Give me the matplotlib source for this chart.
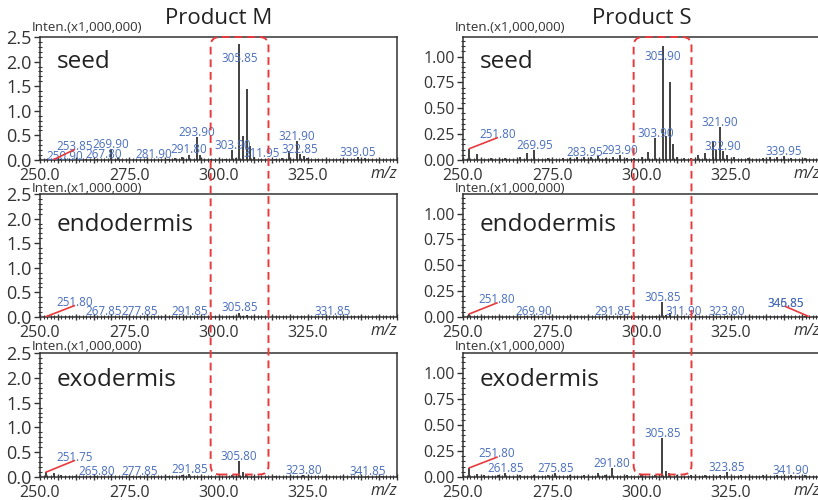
import matplotlib
matplotlib.use("Agg")
import matplotlib.pyplot as plt
from matplotlib.patches import FancyBboxPatch
from matplotlib.ticker import MultipleLocator, FixedLocator, FuncFormatter

plt.rcParams["font.family"] = ["Open Sans", "DejaVu Sans"]

products = ["Product M", "Product S"]
tissues = ["seed", "endodermis", "exodermis"]

# intensity axes, x1,000,000
y_top = [2.5, 1.19]
y_ticks = [[0.0, 0.5, 1.0, 1.5, 2.0, 2.5], [0.0, 0.25, 0.50, 0.75, 1.00]]
y_minor = [0.1, 0.05]
y_fmt = ["{:.1f}", "{:.2f}"]
x_range = (250.0, 350.0)
x_ticks = [250.0, 275.0, 300.0, 325.0]
box_mz = (297.8, 314.0)  # highlighted m/z window

# ---- Product M ----
m_seed_mz = [250.90, 251.85, 253.85, 255.90, 262.90, 265.85, 267.80, 269.90, 271.90,
             279.90, 281.90, 285.90, 287.85, 289.85, 291.80, 293.90, 294.95, 297.85,
             301.90, 303.90, 304.90, 305.85, 306.85, 307.85, 308.85, 309.85, 311.95,
             315.90, 317.90, 319.85, 321.90, 322.85, 323.85, 324.90, 327.90, 333.90,
             337.90, 339.05, 341.00]
m_seed_int = [0.01, 0.03, 0.01, 0.02, 0.02, 0.03, 0.01, 0.23, 0.04,
              0.02, 0.01, 0.03, 0.04, 0.06, 0.11, 0.47, 0.11, 0.02,
              0.03, 0.21, 0.05, 2.35, 0.48, 1.45, 0.29, 0.06, 0.03,
              0.03, 0.04, 0.19, 0.39, 0.12, 0.08, 0.05, 0.02, 0.02,
              0.03, 0.06, 0.04]
m_seed_labels = ["250.90", "253.85", "267.80", "269.90", "281.90", "291.80", "293.90",
                 "303.90", "305.85", "311.95", "321.90", "322.85", "339.05"]

m_endo_mz = [251.80, 253.80, 261.90, 267.85, 277.85, 289.90, 291.85, 303.90, 305.85,
             306.85, 307.85, 321.90, 331.85]
m_endo_int = [0.01, 0.01, 0.01, 0.01, 0.01, 0.01, 0.01, 0.02, 0.09,
              0.03, 0.04, 0.01, 0.01]
m_endo_labels = ["251.80", "267.85", "277.85", "291.85", "305.85", "331.85"]

m_exo_mz = [251.75, 253.80, 255.90, 259.90, 263.90, 265.80, 269.90, 275.90, 277.85,
            281.90, 285.90, 289.90, 291.85, 297.90, 303.90, 305.80, 306.85, 307.80,
            309.90, 315.90, 321.90, 323.80, 329.90, 337.90, 341.85, 345.90]
m_exo_int = [0.10, 0.08, 0.04, 0.03, 0.03, 0.02, 0.03, 0.03, 0.02,
             0.03, 0.03, 0.04, 0.06, 0.03, 0.04, 0.32, 0.10, 0.05,
             0.03, 0.02, 0.03, 0.045, 0.02, 0.02, 0.02, 0.02]
m_exo_labels = ["251.75", "265.80", "277.85", "291.85", "305.80", "323.80", "341.85"]

# ---- Product S ----
s_seed_mz = [251.80, 253.85, 257.90, 261.90, 265.90, 267.85, 269.95, 273.90, 277.90,
             279.90, 281.95, 283.95, 285.90, 287.90, 289.95, 291.90, 293.90, 295.90,
             297.90, 300.05, 301.90, 303.90, 305.90, 306.90, 307.90, 308.90, 309.90,
             311.90, 313.90, 315.90, 317.90, 319.90, 320.90, 321.90, 322.90, 323.90,
             325.90, 329.90, 333.90, 335.90, 337.90, 339.95, 341.90, 345.90]
s_seed_int = [0.11, 0.055, 0.02, 0.02, 0.03, 0.07, 0.10, 0.02, 0.02,
              0.02, 0.03, 0.03, 0.03, 0.04, 0.02, 0.03, 0.05, 0.02,
              0.02, 0.03, 0.08, 0.21, 1.107, 0.23, 0.75, 0.15, 0.03,
              0.02, 0.02, 0.05, 0.07, 0.18, 0.10, 0.32, 0.09, 0.05,
              0.03, 0.02, 0.02, 0.03, 0.03, 0.04, 0.02, 0.02]
s_seed_labels = ["251.80", "269.95", "283.95", "293.90", "303.90", "305.90", "321.90",
                 "322.90", "339.95"]

s_endo_mz = [251.80, 253.85, 267.90, 269.90, 281.90, 289.90, 291.85, 293.90, 303.90,
             305.85, 306.85, 307.85, 311.90, 321.90, 323.80, 335.90, 339.90, 345.85,
             346.85]
s_endo_int = [0.03, 0.01, 0.01, 0.01, 0.01, 0.01, 0.01, 0.01, 0.01,
              0.144, 0.02, 0.04, 0.01, 0.01, 0.01, 0.005, 0.005, 0.005,
              0.005]
s_endo_labels = ["251.80", "269.90", "291.85", "305.85", "311.90", "323.80", "345.85",
                 "346.85"]

s_exo_mz = [251.80, 253.80, 255.90, 259.90, 261.85, 265.90, 269.90, 273.90, 275.85,
            279.90, 283.90, 287.85, 289.90, 291.80, 295.90, 299.90, 303.90, 305.85,
            306.85, 307.80, 309.90, 313.90, 317.90, 321.90, 323.85, 327.90, 333.90,
            337.90, 341.90, 345.90]
s_exo_int = [0.088, 0.03, 0.02, 0.02, 0.035, 0.02, 0.02, 0.02, 0.035,
             0.02, 0.02, 0.04, 0.02, 0.09, 0.02, 0.02, 0.02, 0.37,
             0.06, 0.04, 0.02, 0.02, 0.02, 0.02, 0.05, 0.02, 0.02,
             0.02, 0.02, 0.02]
s_exo_labels = ["251.80", "261.85", "275.85", "291.80", "305.85", "323.85", "341.90"]

spectra = {
    (0, 0): (m_seed_mz, m_seed_int, m_seed_labels),
    (0, 1): (m_endo_mz, m_endo_int, m_endo_labels),
    (0, 2): (m_exo_mz, m_exo_int, m_exo_labels),
    (1, 0): (s_seed_mz, s_seed_int, s_seed_labels),
    (1, 1): (s_endo_mz, s_endo_int, s_endo_labels),
    (1, 2): (s_exo_mz, s_exo_int, s_exo_labels),
}

# labels the software moved away from their peak: (x, y, leader line)
moved = {
    (0, 0): {"305.85": (305.85, 2.0, False), "253.85": (259.6, 0.21, True),
             "250.90": (256.9, 0.01, False)},
    (0, 1): {"251.80": (259.6, 0.23, True)},
    (0, 2): {"251.75": (259.6, 0.33, True)},
    (1, 0): {"305.90": (306.0, 0.97, False), "251.80": (259.6, 0.215, True)},
    (1, 1): {"251.80": (259.5, 0.136, True), "345.85": (340.4, 0.10, False),
             "346.85": (340.45, 0.10, True)},
    (1, 2): {"251.80": (259.5, 0.19, True)},
}

BLUE = "#4a6fbd"
RED = "#e8393c"
INK = "#333333"
PX = 0.72  # points per pixel at 100 dpi

W, H = 818, 500
col_left = [40, 463]
col_width = 357
row_top = [37, 194, 353]
row_bot = [160, 317, 477]
name_base = [31, 37, 33.5]
inten_off = [10, 6, 6]
ylab_size = [13, 11.5]

fig = plt.figure(figsize=(W / 100, H / 100), dpi=100)
axes = {}
for c in range(2):
    for r in range(3):
        ax = fig.add_axes([col_left[c] / W, 1 - row_bot[r] / H,
                           col_width / W, (row_bot[r] - row_top[r]) / H])
        axes[(c, r)] = ax
        mz, inten, labels = spectra[(c, r)]

        ax.vlines(mz, 0, inten, colors=INK, lw=1.3, zorder=3)

        for lab in labels:
            v = float(lab)
            i = min(range(len(mz)), key=lambda k: abs(mz[k] - v))
            if lab in moved[(c, r)]:
                lx, ly, leader = moved[(c, r)][lab]
                ax.text(lx, ly, lab, ha="center", va="baseline", fontsize=8.4,
                        color=BLUE, zorder=4)
                if leader:
                    ax.plot([mz[i], lx], [inten[i], ly], color=RED, lw=1.2, zorder=4)
            else:
                ax.annotate(lab, (mz[i], inten[i]), xytext=(0, 0.8),
                            textcoords="offset points", ha="center", va="baseline",
                            fontsize=8.4, color=BLUE, zorder=4)

        ax.set_xlim(*x_range)
        ax.set_ylim(0, y_top[c])

        ax.xaxis.set_major_locator(MultipleLocator(5))
        ax.xaxis.set_minor_locator(MultipleLocator(1))
        ax.xaxis.set_major_formatter(FuncFormatter(
            lambda v, p: f"{v:.1f}" if any(abs(v - t) < 1e-6 for t in x_ticks) else ""))
        ax.yaxis.set_major_locator(FixedLocator(y_ticks[c]))
        ax.yaxis.set_minor_locator(MultipleLocator(y_minor[c]))
        fmt = y_fmt[c]
        ax.yaxis.set_major_formatter(FuncFormatter(lambda v, p, f=fmt: f.format(v)))

        ax.tick_params(axis="x", which="major", direction="inout", length=5, width=1,
                       color=INK, labelsize=11.5, labelcolor=INK, pad=3.5)
        ax.tick_params(axis="x", which="minor", direction="inout", length=2.5,
                       width=0.8, color=INK)
        ax.tick_params(axis="y", which="major", direction="out", length=4.5, width=1,
                       color=INK, labelsize=ylab_size[c], labelcolor=INK, pad=1.5)
        ax.tick_params(axis="y", which="minor", direction="inout", length=3,
                       width=0.8, color=INK)
        for s in ax.spines.values():
            s.set_color(INK)
            s.set_linewidth(1.1)

        ax.annotate("m/z", (1, 0), xycoords="axes fraction", xytext=(0, -14 * PX),
                    textcoords="offset points", ha="right", va="center",
                    fontsize=11.5, style="italic", color=INK)
        ax.annotate("Inten.(x1,000,000)", (0, 1), xycoords="axes fraction",
                    xytext=(-8 * PX, inten_off[r] * PX), textcoords="offset points",
                    ha="left", va="center", fontsize=9.6, color=INK)
        ax.annotate(tissues[r], (0, 1), xycoords="axes fraction",
                    xytext=(17 * PX, -name_base[r] * PX), textcoords="offset points",
                    ha="left", va="baseline", fontsize=17.5, color="#222222")
        if r == 0:
            ax.annotate(products[c], (0.5, 1), xycoords="axes fraction",
                        xytext=(0, 19 * PX), textcoords="offset points",
                        ha="center", va="center", fontsize=16, color="#222222")

# dashed rounded box around the m/z window, spanning all three rows
over = fig.add_axes([0, 0, 1, 1], zorder=10)
over.set_xlim(0, W)
over.set_ylim(0, H)
over.axis("off")
over.patch.set_alpha(0)
for c in range(2):
    x0 = axes[(c, 0)].transData.transform((box_mz[0], 0))[0]
    x1 = axes[(c, 0)].transData.transform((box_mz[1], 0))[0]
    yt = axes[(c, 0)].transAxes.transform((0, 1))[1]
    yb = axes[(c, 2)].transAxes.transform((0, 0.02))[1]
    over.add_patch(FancyBboxPatch((x0, yb), x1 - x0, yt - yb,
                                  boxstyle="round,pad=0,rounding_size=9",
                                  fill=False, ec=RED, lw=1.4,
                                  linestyle=(0, (4, 2.5))))

fig.savefig("out.png", dpi=100)
plt.close(fig)
